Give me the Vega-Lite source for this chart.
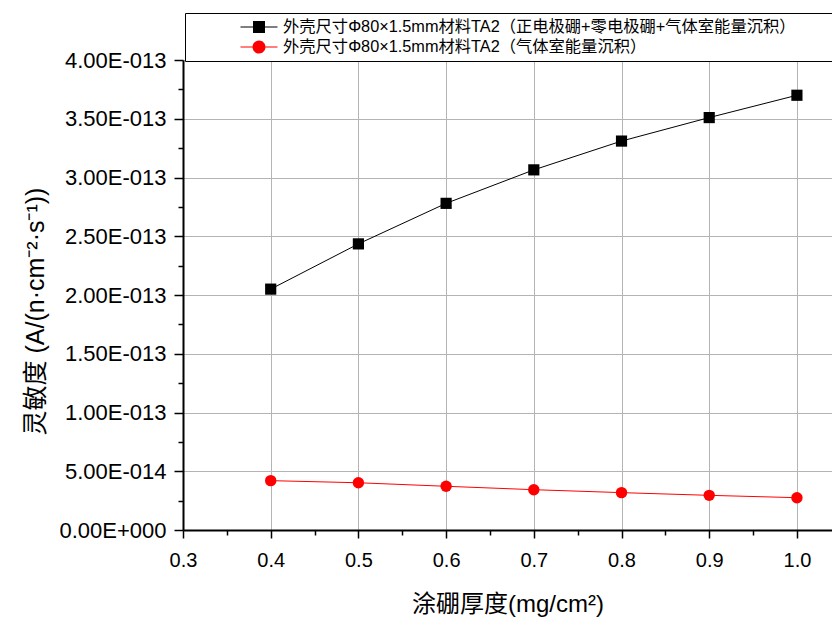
{
  "$schema": "https://vega.github.io/schema/vega-lite/v6.json",
  "autosize": "none",
  "padding": {"left": 183, "top": 60, "right": 0, "bottom": 87},
  "width": 649,
  "height": 470,
  "background": "white",
  "config": {
    "font": "Liberation Sans, Noto Sans CJK SC",
    "view": {"stroke": null},
    "axis": {"labelFont": "Liberation Sans", "titleFont": "Liberation Sans, Noto Sans CJK SC", "labelColor": "black", "titleColor": "black", "titleFontWeight": "normal"}
  },
  "data": {
    "values": [
      {"series": "外壳尺寸Φ80×1.5mm材料TA2（正电极硼+零电极硼+气体室能量沉积）", "thickness": 0.4, "sensitivity": 2.05e-13},
      {"series": "外壳尺寸Φ80×1.5mm材料TA2（正电极硼+零电极硼+气体室能量沉积）", "thickness": 0.5, "sensitivity": 2.435e-13},
      {"series": "外壳尺寸Φ80×1.5mm材料TA2（正电极硼+零电极硼+气体室能量沉积）", "thickness": 0.6, "sensitivity": 2.78e-13},
      {"series": "外壳尺寸Φ80×1.5mm材料TA2（正电极硼+零电极硼+气体室能量沉积）", "thickness": 0.7, "sensitivity": 3.065e-13},
      {"series": "外壳尺寸Φ80×1.5mm材料TA2（正电极硼+零电极硼+气体室能量沉积）", "thickness": 0.8, "sensitivity": 3.31e-13},
      {"series": "外壳尺寸Φ80×1.5mm材料TA2（正电极硼+零电极硼+气体室能量沉积）", "thickness": 0.9, "sensitivity": 3.51e-13},
      {"series": "外壳尺寸Φ80×1.5mm材料TA2（正电极硼+零电极硼+气体室能量沉积）", "thickness": 1.0, "sensitivity": 3.70e-13},
      {"series": "外壳尺寸Φ80×1.5mm材料TA2（气体室能量沉积）", "thickness": 0.4, "sensitivity": 4.2e-14},
      {"series": "外壳尺寸Φ80×1.5mm材料TA2（气体室能量沉积）", "thickness": 0.5, "sensitivity": 4.02e-14},
      {"series": "外壳尺寸Φ80×1.5mm材料TA2（气体室能量沉积）", "thickness": 0.6, "sensitivity": 3.72e-14},
      {"series": "外壳尺寸Φ80×1.5mm材料TA2（气体室能量沉积）", "thickness": 0.7, "sensitivity": 3.43e-14},
      {"series": "外壳尺寸Φ80×1.5mm材料TA2（气体室能量沉积）", "thickness": 0.8, "sensitivity": 3.18e-14},
      {"series": "外壳尺寸Φ80×1.5mm材料TA2（气体室能量沉积）", "thickness": 0.9, "sensitivity": 2.95e-14},
      {"series": "外壳尺寸Φ80×1.5mm材料TA2（气体室能量沉积）", "thickness": 1.0, "sensitivity": 2.75e-14}
    ]
  },
  "resolve": {"axis": {"x": "independent", "y": "independent"}},
  "layer": [
    {
      "transform": [{"filter": "indexof(datum.series, '正电极') >= 0"}],
      "mark": {"type": "line", "color": "black", "strokeWidth": 1},
      "encoding": {
        "x": {
          "field": "thickness", "type": "quantitative",
          "scale": {"domain": [0.3, 1.04], "nice": false, "zero": false},
          "axis": {
            "values": [0.3, 0.4, 0.5, 0.6, 0.7, 0.8, 0.9, 1.0],
            "format": ".1f",
            "labelFlush": false,
            "title": "涂硼厚度(mg/cm²)",
            "titleFontSize": 24,
            "titlePadding": 22,
            "labelFontSize": 20,
            "labelPadding": 12,
            "tickSize": 8, "tickWidth": 1.5, "tickColor": "black",
            "domainColor": "black", "domainWidth": 2,
            "grid": true, "gridColor": "#b4b4b4", "gridWidth": 1,
            "orient": "bottom"
          }
        },
        "y": {
          "field": "sensitivity", "type": "quantitative",
          "scale": {"domain": [0, 4e-13], "nice": false, "zero": true},
          "axis": {
            "values": [0, 5e-14, 1e-13, 1.5e-13, 2e-13, 2.5e-13, 3e-13, 3.5e-13, 4e-13],
            "labelExpr": "datum.value == 0 ? '0.00E+000' : format(datum.value / pow(10, floor(log(datum.value) / LN10 + 1e-9)), '.2f') + 'E-0' + format(-floor(log(datum.value) / LN10 + 1e-9), 'd')",
            "title": "灵敏度 (A/(n·cm⁻²·s⁻¹))",
            "titleFontSize": 25,
            "titlePadding": 10,
            "titleY": 251,
            "labelFontSize": 22,
            "labelPadding": 8,
            "tickSize": 9, "tickWidth": 1.5, "tickColor": "black",
            "domainColor": "black", "domainWidth": 2,
            "grid": true, "gridColor": "#b4b4b4", "gridWidth": 1,
            "orient": "left"
          }
        }
      }
    },
    {
      "transform": [{"filter": "indexof(datum.series, '正电极') < 0"}],
      "mark": {"type": "line", "color": "#ff0000", "strokeWidth": 1},
      "encoding": {
        "x": {
          "field": "thickness", "type": "quantitative",
          "axis": {
            "values": [0.35, 0.45, 0.55, 0.65, 0.75, 0.85, 0.95],
            "labels": false, "domain": false, "grid": false, "title": null,
            "tickSize": 5, "tickWidth": 1.5, "tickColor": "black", "orient": "bottom"
          }
        },
        "y": {
          "field": "sensitivity", "type": "quantitative",
          "axis": {
            "values": [2.5e-14, 7.5e-14, 1.25e-13, 1.75e-13, 2.25e-13, 2.75e-13, 3.25e-13, 3.75e-13],
            "labels": false, "domain": false, "grid": false, "title": null,
            "tickSize": 5, "tickWidth": 1.5, "tickColor": "black", "orient": "left"
          }
        }
      }
    },
    {
      "transform": [{"filter": "indexof(datum.series, '正电极') >= 0"}],
      "mark": {"type": "square", "color": "black", "size": 125, "opacity": 1},
      "encoding": {
        "x": {"field": "thickness", "type": "quantitative", "axis": null},
        "y": {"field": "sensitivity", "type": "quantitative", "axis": null}
      }
    },
    {
      "transform": [{"filter": "indexof(datum.series, '正电极') < 0"}],
      "mark": {"type": "circle", "color": "#ff0000", "size": 130, "opacity": 1},
      "encoding": {
        "x": {"field": "thickness", "type": "quantitative", "axis": null},
        "y": {"field": "sensitivity", "type": "quantitative", "axis": null}
      }
    },
    {
      "transform": [{"filter": "false"}],
      "mark": {"type": "point", "filled": true, "opacity": 1},
      "encoding": {
        "color": {
          "field": "series", "type": "nominal",
          "scale": {
            "domain": ["外壳尺寸Φ80×1.5mm材料TA2（正电极硼+零电极硼+气体室能量沉积）", "外壳尺寸Φ80×1.5mm材料TA2（气体室能量沉积）"],
            "range": ["black", "#ff0000"]
          },
          "legend": {
            "orient": "none", "legendX": 2, "legendY": -47,
            "title": "\u00a0", "titleOrient": "right", "titlePadding": 36,
            "padding": 5, "rowPadding": 2,
            "fillColor": "white", "strokeColor": "black",
            "labelFontSize": 16.3, "labelFont": "Liberation Sans, Noto Sans CJK SC", "labelColor": "black", "labelLimit": 800,
            "labelOffset": 15, "symbolOffset": 60,
            "symbolSize": 324, "symbolStrokeWidth": 0
          }
        },
        "shape": {
          "field": "series", "type": "nominal",
          "scale": {
            "domain": ["外壳尺寸Φ80×1.5mm材料TA2（正电极硼+零电极硼+气体室能量沉积）", "外壳尺寸Φ80×1.5mm材料TA2（气体室能量沉积）"],
            "range": [
              "M-2.056,-0.056H-0.667V0.056H-2.056Z M0.667,-0.056H2.056V0.056H0.667Z M-0.667,-0.667H0.667V0.667H-0.667Z",
              "M-2.056,-0.056H-0.722V0.056H-2.056Z M0.722,-0.056H2.056V0.056H0.722Z M0.722,0A0.722,0.722,0,1,1,-0.722,0A0.722,0.722,0,1,1,0.722,0Z"
            ]
          }
        }
      }
    }
  ]
}
